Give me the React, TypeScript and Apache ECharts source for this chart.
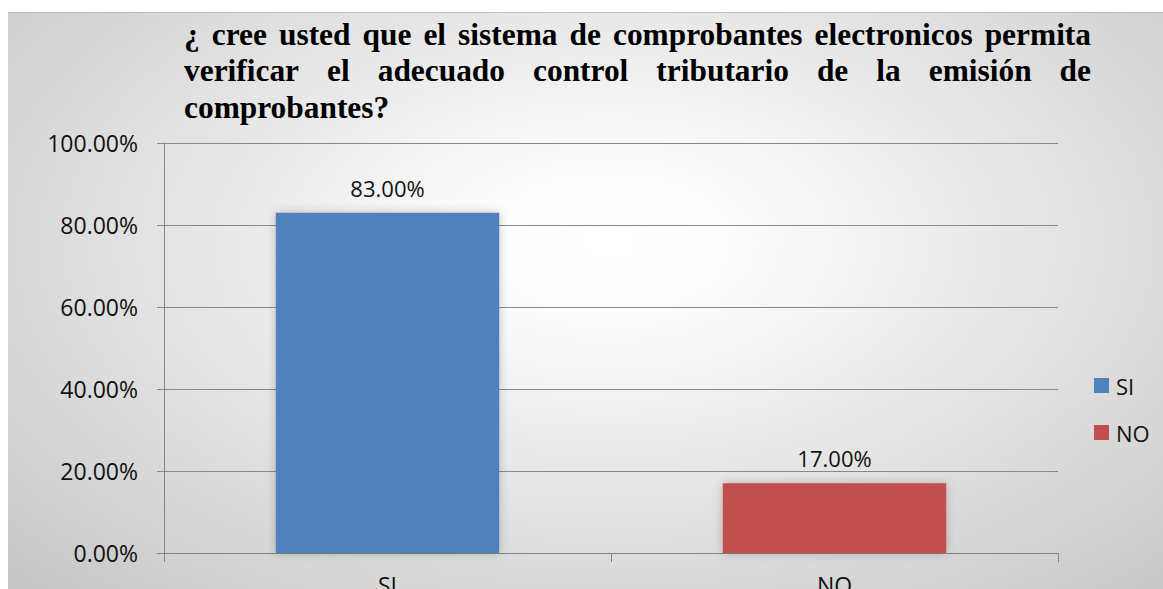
import React, { useEffect, useRef } from "react";
import * as echarts from "echarts";

const categories = ["SI", "NO"];
const seriesNames = ["SI", "NO"];
const siValues: (number | string)[] = [83, "-"];
const noValues: (number | string)[] = ["-", 17];
const yMin = 0;
const yMax = 100;
const yInterval = 20;
const titleLines = [
  "¿ cree usted que el sistema de comprobantes electronicos permita",
  "verificar el adecuado control tributario de la emisión de",
  "comprobantes?",
];

const TITLE_SIZE = 31.4;
const TITLE_FAMILY = '"Liberation Serif", "Times New Roman", serif';
const SANS = '"Open Sans", "Noto Sans", sans-serif';

export default function App() {
  const ref = useRef<HTMLDivElement>(null);
  useEffect(() => {
    document.body.style.margin = "0";
    document.body.style.overflow = "hidden";
    const chart = echarts.init(ref.current!, null, { renderer: "svg" });

    const ctx = document.createElement("canvas").getContext("2d")!;
    ctx.font = `bold ${TITLE_SIZE}px ${TITLE_FAMILY}`;
    const measure = (s: string) => ctx.measureText(s).width;

    const titleLeft = 176;
    const titleRight = 1083;
    const lineY = [22, 58.5, 95];
    const graphics: any[] = [];
    titleLines.forEach((line, li) => {
      const words = line.split(" ");
      const justify = li < titleLines.length - 1 && words.length > 1;
      const widths = words.map(measure);
      const total = widths.reduce((a, b) => a + b, 0);
      const gap = justify
        ? (titleRight - titleLeft - total) / (words.length - 1)
        : measure(" ");
      let x = titleLeft;
      words.forEach((w, i) => {
        graphics.push({
          type: "text",
          x,
          y: lineY[li],
          silent: true,
          style: {
            text: w,
            fill: "#000",
            fontSize: TITLE_SIZE,
            fontWeight: "bold",
            fontFamily: TITLE_FAMILY,
            align: "left",
            verticalAlign: "middle",
          },
        });
        x += widths[i] + gap;
      });
    });

    const labelStyle = {
      show: true,
      position: "top",
      distance: 14,
      fontSize: 22,
      fontFamily: SANS,
      color: "#111",
      formatter: (p: any) => `${Number(p.value).toFixed(2)}%`,
    };

    chart.setOption({
      animation: false,
      backgroundColor: "transparent",
      graphic: graphics,
      grid: {
        left: 156,
        right: 105,
        top: 131,
        bottom: 36,
        containLabel: false,
        outerBoundsMode: "none",
      },
      legend: {
        orient: "vertical",
        left: 1081,
        top: 357,
        itemWidth: 15,
        itemHeight: 15,
        itemGap: 24,
        icon: "rect",
        data: seriesNames,
        textStyle: { fontSize: 22, fontFamily: SANS, color: "#111", lineHeight: 23, padding: [0, 0, 0, 2] },
      },
      xAxis: {
        type: "category",
        data: categories,
        axisLine: { lineStyle: { color: "#868686", width: 1 } },
        axisTick: { show: true, length: 9, lineStyle: { color: "#868686" } },
        axisLabel: { fontSize: 23, fontFamily: SANS, color: "#111", margin: 20 },
      },
      yAxis: {
        type: "value",
        min: yMin,
        max: yMax,
        interval: yInterval,
        axisLine: { show: true, lineStyle: { color: "#868686", width: 1 } },
        axisTick: { show: true, length: 7, lineStyle: { color: "#868686" } },
        splitLine: { show: true, lineStyle: { color: "#898989", width: 1 } },
        axisLabel: {
          fontSize: 23,
          fontFamily: SANS,
          color: "#111",
          margin: 26,
          formatter: (v: number) => `${v.toFixed(2)}%`,
        },
      },
      series: [
        {
          name: seriesNames[0],
          type: "bar",
          data: siValues,
          barWidth: "50%",
          barGap: "-100%",
          itemStyle: { color: "#4F81BD", shadowBlur: 10, shadowColor: "rgba(0,0,0,0.22)" },
          label: labelStyle,
        },
        {
          name: seriesNames[1],
          type: "bar",
          data: noValues,
          barWidth: "50%",
          barGap: "-100%",
          itemStyle: { color: "#C0504D", shadowBlur: 10, shadowColor: "rgba(0,0,0,0.22)" },
          label: labelStyle,
        },
      ],
    });
    return () => chart.dispose();
  }, []);

  return (
    <div style={{ position: "relative", width: 1163, height: 589, background: "#fff", overflow: "hidden" }}>
      <div
        ref={ref}
        style={{
          position: "absolute",
          left: 8,
          top: 12,
          width: 1155,
          height: 577,
          background:
            "radial-gradient(ellipse farthest-corner at 52% 40%, #ffffff 0%, #fdfdfd 14%, #e9e9e9 45%, #c6c6c6 100%)",
          boxShadow: "inset 0 1px 0 #bdbdbd",
        }}
      />
    </div>
  );
}
